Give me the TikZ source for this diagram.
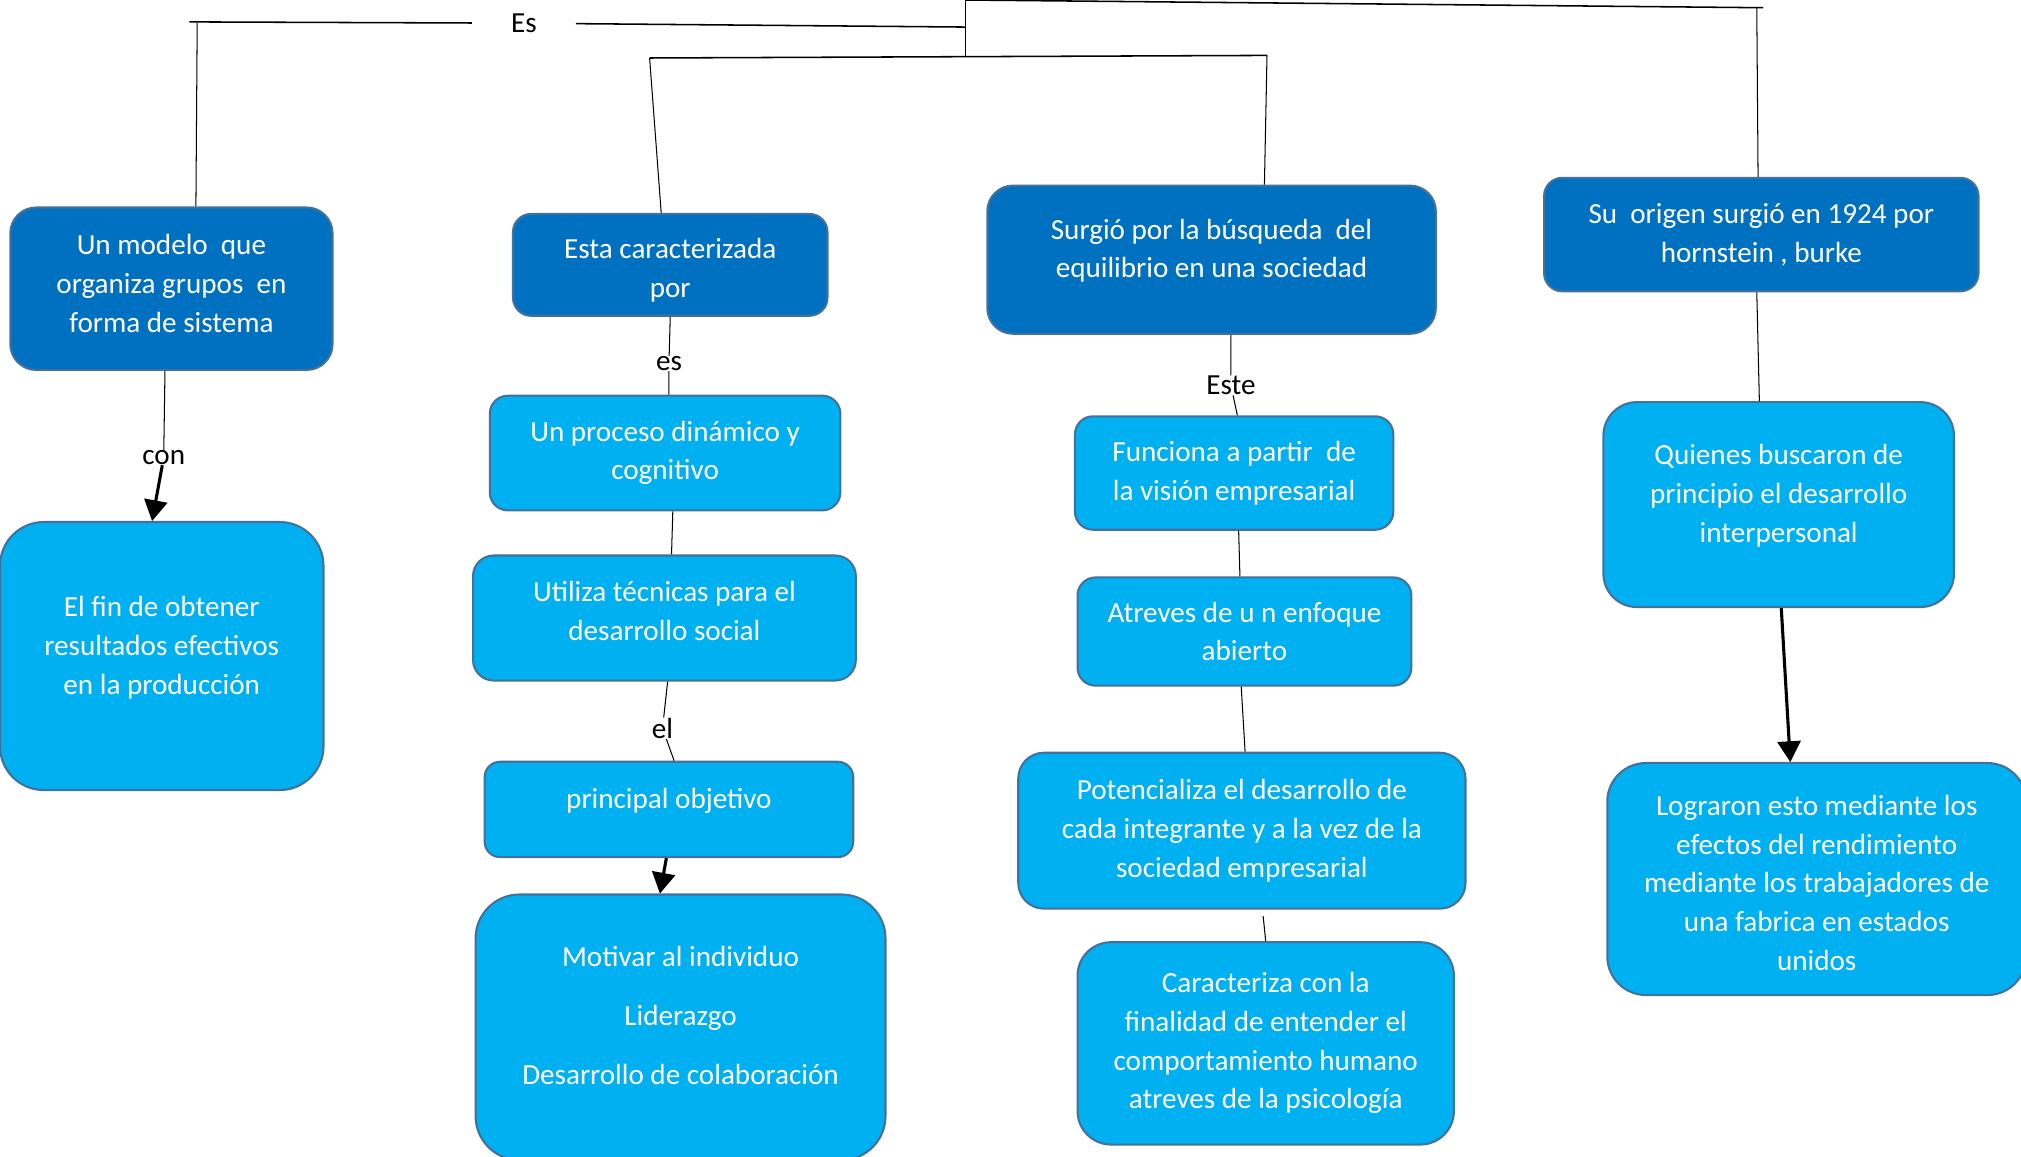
\documentclass[tikz,border=0pt]{standalone}
\usepackage{fontspec}
\setmainfont{Carlito}
\usetikzlibrary{shapes,arrows}
\definecolor{darkfill}{HTML}{0070C0}
\definecolor{lightfill}{HTML}{00B0F0}
\definecolor{boxline}{HTML}{41719C}
\begin{document}
\begin{tikzpicture}[x=0.5pt,y=-0.5pt,
    concept/.style={draw=boxline, line width=0.8pt, text=white, align=center, inner sep=2pt,
        font=\fontsize{11.3}{15}\selectfont},
    darkconcept/.style={concept, fill=darkfill},
    lightconcept/.style={concept, fill=lightfill},
    textbase/.style 2 args={text height=#1, text depth=#2},
    linkword/.style={inner sep=0pt, font=\fontsize{11.3}{15}\selectfont},
    linkarrow/.style={-triangle 60, line width=1.2pt}]
    \useasboundingbox (0,0) rectangle (1568,897);
    % first column
    \node[darkconcept, minimum width=125pt, minimum height=63pt, rounded corners=10pt, textbase={33.6pt}{0pt}] (modelo) at (133,224)
        {Un modelo\ \ que\\organiza grupos\ \ en\\forma de sistema};
    \node[lightconcept, minimum width=125.5pt, minimum height=104pt, rounded corners=17pt, textbase={29.6pt}{0pt}] (fin) at (125.5,509)
        {El fin de obtener\\resultados efectivos\\en la producción};
    % second column
    \node[darkconcept, minimum width=122pt, minimum height=39.5pt, rounded corners=7pt, textbase={25.1pt}{0pt}] (caract) at (520,205.5)
        {Esta caracterizada\\por};
    \node[lightconcept, minimum width=136pt, minimum height=44.5pt, rounded corners=7pt] (proceso) at (516,351.5)
        {Un proceso dinámico y\\cognitivo};
    \node[lightconcept, minimum width=148.5pt, minimum height=48.5pt, rounded corners=8pt, textbase={17.1pt}{0pt}] (tecnicas) at (515.5,479.5)
        {Utiliza técnicas para el\\desarrollo social};
    \node[lightconcept, minimum width=143pt, minimum height=37pt, rounded corners=6pt, textbase={0pt}{0.4pt}] (objetivo) at (519,628)
        {principal objetivo};
    \node[lightconcept, minimum width=159pt, minimum height=103pt, rounded corners=17pt, textbase={44.6pt}{0pt}] (metas) at (528,797)
        {Motivar al individuo\\[8pt]Liderazgo\\[8pt]Desarrollo de colaboración};
    % third column
    \node[darkconcept, minimum width=174pt, minimum height=57.5pt, rounded corners=10pt, textbase={14.1pt}{0pt}] (surgio) at (940,201.5)
        {Surgió por la búsqueda\ \ del\\equilibrio en una sociedad};
    \node[lightconcept, minimum width=123.5pt, minimum height=44pt, rounded corners=7pt] (vision) at (957.5,367)
        {Funciona a partir\ \ de\\la visión empresarial};
    \node[lightconcept, minimum width=129.5pt, minimum height=42pt, rounded corners=7pt] (enfoque) at (965.5,490)
        {Atreves de u n enfoque\\abierto};
    \node[lightconcept, minimum width=173.5pt, minimum height=60.5pt, rounded corners=10pt] (potencia) at (963.5,644.5)
        {Potencializa el desarrollo de\\cada integrante y a la vez de la\\sociedad empresarial};
    \node[lightconcept, minimum width=146pt, minimum height=78.5pt, rounded corners=13pt] (psico) at (982,809.5)
        {Caracteriza con la\\finalidad de entender el\\comportamiento humano\\atreves de la psicología};
    % fourth column
    \node[darkconcept, minimum width=168.5pt, minimum height=44pt, rounded corners=7pt] (origen) at (1366.5,182)
        {Su\ \ origen surgió en 1924 por\\hornstein , burke};
    \node[lightconcept, minimum width=136pt, minimum height=79.5pt, rounded corners=13pt, textbase={29.1pt}{0pt}] (quienes) at (1380,391.5)
        {Quienes buscaron de\\principio el desarrollo\\interpersonal};
    \node[lightconcept, minimum width=162.5pt, minimum height=90pt, rounded corners=15pt, textbase={70.6pt}{0pt}] (lograron) at (1409.5,682)
        {Lograron esto mediante los\\efectos del rendimiento\\mediante los trabajadores de\\una fabrica en estados\\unidos};
    % linking words
    \node[linkword, inner xsep=15pt] (es) at (406.5,18) {Es};
    \node[linkword] (con) at (127,355) {con};
    \node[linkword] (esB) at (519,282) {es};
    \node[linkword] (el) at (514,565) {el};
    \node[linkword] (este) at (955,299) {Este};
    % top tree
    \coordinate (esleft) at (147,17);
    \coordinate (esright) at (749,21);
    \coordinate (hubtop) at (749,0);
    \coordinate (hublow) at (749,44);
    \coordinate (lowleft) at (504,45);
    \coordinate (lowright) at (983,43);
    \coordinate (topright) at (1368,6);
    \draw [line width=0.6pt] (esleft) -- (es) -- (esright);
    \draw [line width=0.6pt] (hubtop) -- (hublow);
    \draw [line width=0.6pt] (hubtop) -- (topright);
    \draw [line width=0.6pt] (lowleft) -- (lowright);
    \draw (153,18) -- ([xshift=9.5pt]modelo.north);
    \draw (lowleft) -- ([xshift=-3.5pt]caract.north);
    \draw (lowright) -- ([xshift=20.5pt]surgio.north);
    \draw (1363,6) -- ([xshift=-1.25pt]origen.north);
    % column links
    \draw ([xshift=-2.5pt]modelo.south) -- (con);
    \draw [linkarrow] (con) -- ([xshift=-3.75pt]fin.north);
    \draw (caract.south) -- (esB) -- ([xshift=1.5pt]proceso.north);
    \draw ([xshift=3pt]proceso.south) -- ([xshift=2.75pt]tecnicas.north);
    \draw ([xshift=1.25pt]tecnicas.south) -- (el) -- ([xshift=2pt]objetivo.north);
    \draw [linkarrow] ([xshift=-1pt]objetivo.south) -- ([xshift=-8pt]metas.north);
    \draw ([xshift=7.5pt]surgio.south) -- (este) -- ([xshift=1.25pt]vision.north);
    \draw ([xshift=1.75pt]vision.south) -- ([xshift=-1.75pt]enfoque.north);
    \draw ([xshift=-1.25pt]enfoque.south) -- ([xshift=1.25pt]potencia.north);
    \draw ([xshift=8.25pt,yshift=-2.5pt]potencia.south) -- (psico.north);
    \draw ([xshift=-1.75pt]origen.south) -- ([xshift=-7.5pt]quienes.north);
    \draw [linkarrow] ([xshift=1pt]quienes.south) -- ([xshift=-10.25pt]lograron.north);
\end{tikzpicture}
\end{document}
